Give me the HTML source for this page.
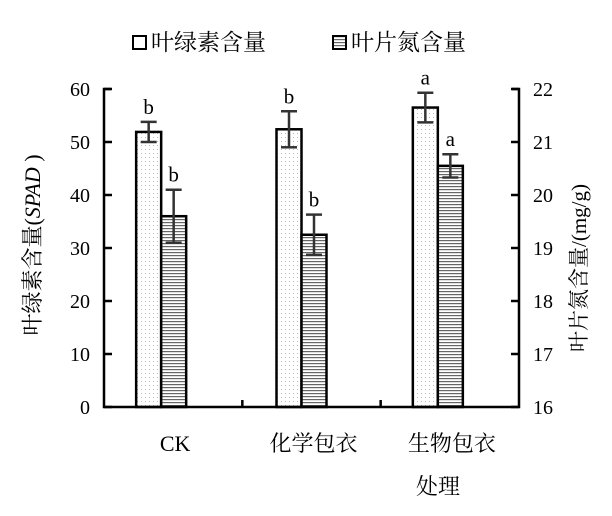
<!DOCTYPE html>
<html><head><meta charset="utf-8"><style>
body{margin:0;background:#fff;}
svg text{font-family:"Liberation Serif","Noto Serif CJK SC",serif;fill:#000;}
</style></head><body>
<svg width="612" height="511" viewBox="0 0 612 511">
<defs>
<pattern id="dots" width="4" height="4" patternUnits="userSpaceOnUse"><rect width="4" height="4" fill="#fff"/><rect x="1" y="1" width="1" height="1" fill="#bbb"/></pattern>
<pattern id="hlines" width="4" height="3" patternUnits="userSpaceOnUse"><rect width="4" height="3" fill="#fff"/><rect y="0" width="4" height="1.2" fill="#666"/></pattern>
</defs>
<g id="legend">
<g><rect x="133" y="36" width="13" height="13" fill="#fff" stroke="#000" stroke-width="2"/><text x="151" y="50" font-size="23">叶绿素含量</text></g>
<g><rect x="333" y="36" width="13" height="13" fill="url(#hlines)" stroke="#000" stroke-width="2"/><text x="351" y="50" font-size="23">叶片氮含量</text></g>
</g>
<g id="plot"></g>
<text transform="translate(40,245) rotate(-90)" text-anchor="middle" font-size="22">叶绿素含量(<tspan font-style="italic">SPAD</tspan> )</text>
<text transform="translate(586,268) rotate(-90)" text-anchor="middle" font-size="21">叶片氮含量/(mg/g)</text>
<text x="438" y="494" text-anchor="middle" font-size="22">处理</text>
</svg>
<script>
const categories=["CK","化学包衣","生物包衣"];
const chlValues=[51.9,52.4,56.5];
const chlErrors=[1.9,3.4,2.8];
const chlLetters=["b","b","a"];
const nValues=[19.6,19.25,20.55];
const nErrors=[0.5,0.38,0.22];
const nLetters=["b","b","a"];
const leftTicks=[0,10,20,30,40,50,60];
const rightTicks=[16,17,18,19,20,21,22];
const NS="http://www.w3.org/2000/svg";
const g=document.getElementById('plot');
const X0=104,X1=519,Y0=407,Y1=89;
const yL=v=>Y0-(v-0)/60*(Y0-Y1);
const yR=v=>Y0-(v-16)/6*(Y0-Y1);
const groupW=(X1-X0)/3;
const bw=25;
const cx=i=>X0+groupW*(i+0.5)-12+(i===1?2:0);
function el(t,a,p){const e=document.createElementNS(NS,t);for(const k in a)e.setAttribute(k,a[k]);(p||g).appendChild(e);return e;}
categories.forEach((c,i)=>{
 const x=cx(i);
 let r=el('rect',{x:x-bw,y:yL(chlValues[i]),width:bw,height:Y0-yL(chlValues[i]),fill:'url(#dots)',stroke:'#000','stroke-width':2.5});
 
 
 r=el('rect',{x:x,y:yR(nValues[i]),width:bw,height:Y0-yR(nValues[i]),fill:'url(#hlines)',stroke:'#000','stroke-width':2.5});
 
 
 [[x-bw/2,yL(chlValues[i]+chlErrors[i]),yL(chlValues[i]-chlErrors[i]),chlLetters[i],'chlorophyll'],[x+bw/2,yR(nValues[i]+nErrors[i]),yR(nValues[i]-nErrors[i]),nLetters[i],'nitrogen']].forEach(([ex,t,b,l,n])=>{
  const eg=el('g',{stroke:'#333','stroke-width':2.5});
  
  
  el('line',{x1:ex,x2:ex,y1:t,y2:b},eg);
  el('line',{x1:ex-8,x2:ex+8,y1:t,y2:t},eg);
  el('line',{x1:ex-8,x2:ex+8,y1:b,y2:b},eg);
  const tx=el('text',{x:ex,y:t-8,'text-anchor':'middle','font-size':21});
  tx.textContent=l;
  
  
 });
 const lb=el('text',{x:X0+groupW*(i+0.5)+2,y:451,'text-anchor':'middle','font-size':22});
 lb.textContent=c;
 
 
 if(i>0){const tk=el('line',{x1:X0+groupW*i,x2:X0+groupW*i,y1:Y0,y2:Y0-7,stroke:'#000','stroke-width':2.5});
 
 }
});
let a=el('path',{d:`M${X0+7},${Y1} H${X0} V${Y0} H${X1} V${Y1} H${X1-7}`,fill:'none',stroke:'#000','stroke-width':2.5});


leftTicks.forEach(v=>{
 const l=el('line',{x1:X0,x2:X0+8,y1:yL(v),y2:yL(v),stroke:'#000','stroke-width':2.5});
 
 
 const t=el('text',{x:X0-14,y:yL(v)+7,'text-anchor':'end','font-size':20});
 t.textContent=v;
 
 
});
rightTicks.forEach(v=>{
 const l=el('line',{x1:X1-8,x2:X1,y1:yR(v),y2:yR(v),stroke:'#000','stroke-width':2.5});
 
 
 const t=el('text',{x:X1+14,y:yR(v)+7,'text-anchor':'start','font-size':20});
 t.textContent=v;
 
 
});
</script>
</body></html>
